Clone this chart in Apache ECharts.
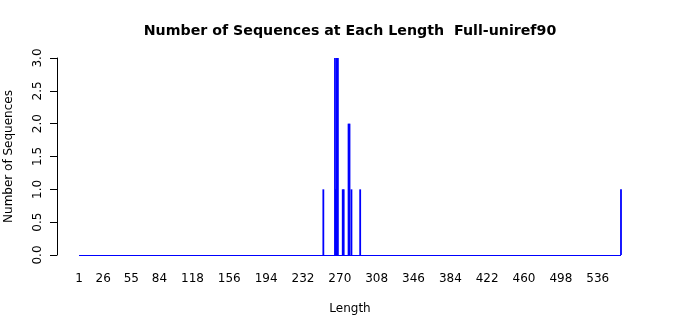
<!DOCTYPE html>
<html>
<head>
<meta charset="utf-8">
<script src="https://cdn.jsdelivr.net/npm/echarts@6/dist/echarts.min.js"></script>
<style>html,body{margin:0;padding:0;background:#fff;}#c{width:700px;height:315px;}</style>
</head>
<body>
<div id="c"></div>
<script>
// Data
const lengths = [253, 265, 266, 267, 268, 273, 274, 279, 280, 282, 291, 560];
const counts  = [1,   3,   1,   3,   3,   1,   1,   2,   2,   1,   1,   1];
const lengthRange = [1, 560];
const xTickLabels = [1, 26, 55, 84, 118, 156, 194, 232, 270, 308, 346, 384, 422, 460, 498, 536];
const yTicks = [0, 0.5, 1, 1.5, 2, 2.5, 3];

const chart = echarts.init(document.getElementById('c'), null, {renderer: 'canvas'});
const font = 'DejaVu Sans';
chart.setOption({
  animation: false,
  backgroundColor: '#fff',
  title: {
    text: 'Number of Sequences at Each Length  Full-uniref90',
    left: 'center', top: 19,
    textStyle: {fontFamily: font, fontWeight: 'bold', fontSize: 14.2, color: '#000'}
  },
  grid: {left: 57, right: 57, top: 58, bottom: 60, outerBoundsMode: 'none', containLabel: false},
  xAxis: {
    type: 'value',
    min: -21.7, max: 582.7,
    axisLine: {show: false, onZero: false},
    axisTick: {show: false},
    splitLine: {show: false},
    axisLabel: {
      customValues: xTickLabels,
      fontFamily: font, fontSize: 12, color: '#000', margin: 18
    },
    name: 'Length',
    nameLocation: 'middle',
    nameGap: 48,
    nameTextStyle: {fontFamily: font, fontSize: 12, color: '#000'}
  },
  yAxis: {
    type: 'value',
    min: 0, max: 3, interval: 0.5,
    axisLine: {show: true, onZero: false, lineStyle: {color: '#000', width: 1}},
    axisTick: {show: true, length: 7, lineStyle: {color: '#000'}},
    splitLine: {show: false},
    axisLabel: {
      rotate: 90,
      fontFamily: font, fontSize: 12, color: '#000', margin: 13,
      formatter: v => v.toFixed(1)
    },
    name: 'Number of Sequences',
    nameLocation: 'middle',
    nameGap: 42,
    nameTextStyle: {fontFamily: font, fontSize: 12, color: '#000'}
  },
  series: [{
    type: 'bar',
    data: lengths.map((l, i) => [l, counts[i]]),
    barWidth: 1.8,
    barGap: '-100%',
    itemStyle: {color: '#0000ff'},
    markLine: {
      symbol: 'none',
      silent: true,
      label: {show: false},
      lineStyle: {color: '#0000ff', width: 1, type: 'solid'},
      data: [[{coord: [lengthRange[0], 0]}, {coord: [lengthRange[1], 0]}]]
    }
  }]
});
</script>
</body>
</html>
